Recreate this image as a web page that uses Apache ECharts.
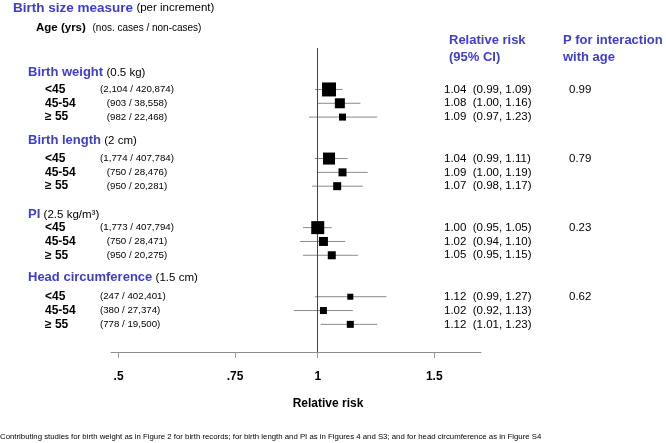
<!DOCTYPE html>
<html><head><meta charset="utf-8">
<script src="https://cdn.jsdelivr.net/npm/echarts@6/dist/echarts.min.js"></script>
<style>html,body{margin:0;padding:0;background:#fff}#c{width:666px;height:443px}</style>
</head><body><div id="c"></div>
<script>
// ---- data ----
const measures = ['Birth weight', 'Birth length', 'PI', 'Head circumference'];
const increments = ['(0.5 kg)', '(2 cm)', '(2.5 kg/m³)', '(1.5 cm)'];
const ageGroups = ['<45', '45-54', '≥ 55'];
const counts = ['(2,104 / 420,874)', '(903 / 38,558)', '(982 / 22,468)',
                '(1,774 / 407,784)', '(750 / 28,476)', '(950 / 20,281)',
                '(1,773 / 407,794)', '(750 / 28,471)', '(950 / 20,275)',
                '(247 / 402,401)', '(380 / 27,374)', '(778 / 19,500)'];
const rr    = [1.04, 1.08, 1.09, 1.04, 1.09, 1.07, 1.00, 1.02, 1.05, 1.12, 1.02, 1.12];
const lower = [0.99, 1.00, 0.97, 0.99, 1.00, 0.98, 0.95, 0.94, 0.95, 0.99, 0.92, 1.01];
const upper = [1.09, 1.16, 1.23, 1.11, 1.19, 1.17, 1.05, 1.10, 1.15, 1.27, 1.13, 1.23];
const weights = [14, 10, 7, 12, 8, 8, 13, 9, 8, 6, 7, 7];
const pInteraction = ['0.99', '0.79', '0.23', '0.62'];
const xTicks = [0.5, 0.75, 1, 1.5];
const xTickLabels = ['.5', '.75', '1', '1.5'];

// ---- layout ----
const BLUE = '#3d3dd4';
const FONT = 'Liberation Sans, Arial, sans-serif';
const rowOf = i => Math.floor(i / 3) * 5 + (i % 3);
const lnTicks = xTicks.map(Math.log);
const fmt = v => v.toFixed(2);

const chart = echarts.init(document.getElementById('c'));
chart.setOption({
  animation: false,
  grid: { left: 111, right: 185, top: 48, bottom: 91 },
  xAxis: {
    type: 'value', min: Math.log(0.487), max: Math.log(1.765),
    axisLine: { show: true, onZero: false, lineStyle: { color: '#8c8c8c', width: 1 } },
    axisTick: { show: true, customValues: lnTicks, length: 6, lineStyle: { color: '#9a9a9a' } },
    axisLabel: {
      customValues: lnTicks, margin: 19, fontFamily: FONT, fontWeight: 'bold', fontSize: 12, color: '#000',
      formatter: v => { const k = lnTicks.findIndex(t => Math.abs(t - v) < 1e-6); return k >= 0 ? xTickLabels[k] : ''; }
    },
    splitLine: { show: false }
  },
  yAxis: { type: 'value', min: -3, max: 19, inverse: true, show: false },
  series: [
    {
      type: 'custom', silent: true, z: 1,
      renderItem: (params, api) => {
        const a = api.coord([api.value(0), api.value(2)]);
        const b = api.coord([api.value(1), api.value(2)]);
        return { type: 'line', shape: { x1: a[0], y1: a[1], x2: b[0], y2: b[1] },
                 style: { stroke: '#8a8a8a', lineWidth: 1 } };
      },
      encode: { x: [0, 1], y: 2 },
      data: rr.map((v, i) => [Math.log(lower[i]), Math.log(upper[i]), rowOf(i)])
    },
    {
      type: 'scatter', symbol: 'rect', z: 3, silent: true,
      symbolSize: (v, p) => weights[p.dataIndex],
      itemStyle: { color: '#000', opacity: 1 },
      data: rr.map((v, i) => [Math.log(v), rowOf(i)]),
      markLine: {
        silent: true, symbol: 'none', z: 2, label: { show: false },
        lineStyle: { color: '#444', width: 1, type: 'solid' },
        data: [{ xAxis: 0 }]
      }
    }
  ]
});

const yOf = row => chart.convertToPixel({ gridIndex: 0 }, [0, row])[1];
const g = [];
function txt(x, y, text, opts) {
  g.push({ type: 'text', x: x, y: y, silent: true,
    style: Object.assign({ text: text, fill: '#000', font: '12px ' + FONT, textVerticalAlign: 'middle' }, opts || {}) });
}
// headers
txt(13, 8, '{t|Birth size measure} {n|(per increment)}', { rich: {
  t: { fontFamily: FONT, fontWeight: 'bold', fontSize: 13.5, fill: BLUE },
  n: { fontFamily: FONT, fontSize: 11.5, fill: '#000' } } });
txt(36, 28, '{a|Age (yrs)}  {s|(nos. cases / non-cases)}', { rich: {
  a: { fontFamily: FONT, fontWeight: 'bold', fontSize: 11.5, fill: '#000' },
  s: { fontFamily: FONT, fontSize: 10, fill: '#000' } } });
txt(449, 40, 'Relative risk', { font: 'bold 13px ' + FONT, fill: BLUE });
txt(449, 57, '(95% CI)', { font: 'bold 13px ' + FONT, fill: BLUE });
txt(563, 40, 'P for interaction', { font: 'bold 13px ' + FONT, fill: BLUE });
txt(563, 57, 'with age', { font: 'bold 13px ' + FONT, fill: BLUE });

const titleOffset = [-17, -18, -13, -19];
for (let m = 0; m < measures.length; m++) {
  const y0 = yOf(m * 5);
  txt(28, y0 + titleOffset[m], '{t|' + measures[m] + '} {n|' + increments[m] + '}', { rich: {
    t: { fontFamily: FONT, fontWeight: 'bold', fontSize: 13, fill: BLUE },
    n: { fontFamily: FONT, fontSize: 11.5, fill: '#000' } } });
  txt(569, y0, pInteraction[m], { font: '11.5px ' + FONT });
  for (let a = 0; a < 3; a++) {
    const i = m * 3 + a;
    const y = yOf(rowOf(i));
    txt(45, y, ageGroups[a], { font: 'bold 12px ' + FONT });
    if (m < 3) txt(137, y, counts[i], { font: '9.7px ' + FONT, textAlign: 'center' });
    else txt(100, y, counts[i], { font: '9.7px ' + FONT, textAlign: 'left' });
    txt(444, y, fmt(rr[i]) + '  (' + fmt(lower[i]) + ', ' + fmt(upper[i]) + ')', { font: '11.5px ' + FONT });
  }
}
txt(328, 404, 'Relative risk', { font: 'bold 12px ' + FONT, textAlign: 'center' });
txt(0, 437, 'Contributing studies for birth weight as in Figure 2 for birth records; for birth length and PI as in Figures 4 and S3; and for head circumference as in Figure S4',
  { font: '7.8px ' + FONT });
chart.setOption({ graphic: g });
</script>
</body></html>
